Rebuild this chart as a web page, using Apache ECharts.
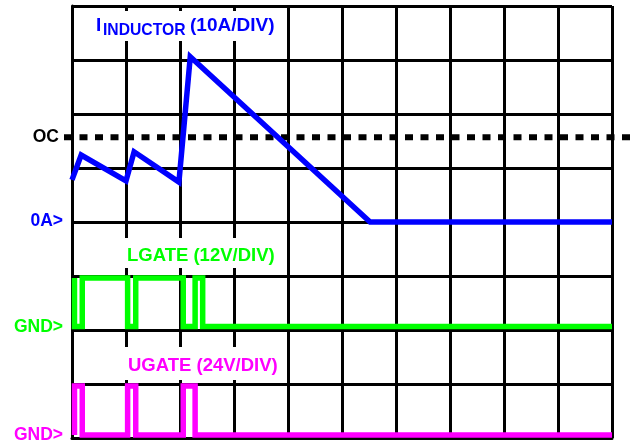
<!DOCTYPE html>
<html>
<head>
<meta charset="utf-8">
<script src="https://cdn.jsdelivr.net/npm/echarts@6/dist/echarts.min.js"></script>
<style>
html, body {margin: 0; padding: 0; background: #fff;}
#chart {width: 639px; height: 440px;}
</style>
</head>
<body>
<div id="chart"></div>
<script>
// scope screen: 10 divisions across, 8 divisions down
// time is in divisions
var inductorT = [0, 0.17, 1.0, 1.15, 1.98, 2.19, 5.52, 10];
var inductorA = [7.8, 12.4, 7.6, 13.0, 7.4, 30.6, 0, 0];
var ocA = 15.7;

var lgateT = [0.046, 0.046, 0.19, 0.19, 1.03, 1.03, 1.18, 1.18, 2.06, 2.06, 2.28, 2.28, 2.42, 2.42, 10];
var lgateV = [10.8, 0, 0, 10.8, 10.8, 0, 0, 10.8, 10.8, 0, 0, 10.8, 10.8, 0, 0];

var ugateT = [0.046, 0.046, 0.19, 0.19, 1.03, 1.03, 1.18, 1.18, 2.06, 2.06, 2.28, 2.28, 10];
var ugateV = [0, 21.8, 21.8, 0, 0, 21.8, 21.8, 0, 0, 21.8, 21.8, 0, 0];

// each channel: ground marker (in divisions from the bottom) and units per division
var inductorZero = 4, inductorPerDiv = 10;
var lgateZero = 2.065, lgatePerDiv = 12;
var ugateZero = 0.056, ugatePerDiv = 24;

function toScreen(ts, vs, zero, perDiv) {
	var out = [];
	for(var i = 0; i < ts.length; i++) {
		out.push([ts[i], zero + vs[i] / perDiv]);
	}
	return out;
}

var font = "'Liberation Sans', Arial, sans-serif";

var myChart = echarts.init(document.getElementById('chart'), null, {renderer: 'canvas'});
var option = {
	animation: false,
	backgroundColor: '#fff',
	grid: [{
		left: 72,
		right: 27,
		top: 6,
		height: 432
	}, {
		// wider grid so the OC line runs past the screen edges
		left: 64,
		right: 7,
		top: 6,
		height: 432
	}],
	xAxis: [{
		type: 'value',
		gridIndex: 0,
		min: 0,
		max: 10,
		interval: 1,
		axisLine: {show: true, lineStyle: {color: '#000', width: 3}},
		axisTick: {show: false},
		axisLabel: {show: false},
		splitLine: {show: true, lineStyle: {color: '#000', width: 3}}
	}, {
		type: 'value',
		gridIndex: 1,
		min: 0,
		max: 1,
		show: false
	}],
	yAxis: [{
		type: 'value',
		gridIndex: 0,
		min: 0,
		max: 8,
		interval: 1,
		axisLine: {show: true, lineStyle: {color: '#000', width: 3}},
		axisTick: {show: false},
		axisLabel: {show: false},
		splitLine: {show: true, lineStyle: {color: '#000', width: 3}}
	}, {
		type: 'value',
		gridIndex: 1,
		min: 0,
		max: 8,
		show: false
	}],
	series: [{
		name: 'OC',
		type: 'line',
		xAxisIndex: 1,
		yAxisIndex: 1,
		symbol: 'none',
		z: 3,
		lineStyle: {color: '#000', width: 6, type: [8, 7.5]},
		data: [[0, inductorZero + ocA / inductorPerDiv], [1, inductorZero + ocA / inductorPerDiv]]
	}, {
		name: 'IINDUCTOR',
		type: 'line',
		symbol: 'none',
		z: 4,
		lineStyle: {color: '#0000ff', width: 5.5, join: 'miter'},
		data: toScreen(inductorT, inductorA, inductorZero, inductorPerDiv)
	}, {
		name: 'LGATE',
		type: 'line',
		symbol: 'none',
		z: 4,
		lineStyle: {color: '#00ff00', width: 5.5, join: 'miter'},
		data: toScreen(lgateT, lgateV, lgateZero, lgatePerDiv)
	}, {
		name: 'UGATE',
		type: 'line',
		symbol: 'none',
		z: 4,
		lineStyle: {color: '#ff00ff', width: 5.5, join: 'miter'},
		data: toScreen(ugateT, ugateV, ugateZero, ugatePerDiv)
	}],
	graphic: [
		// white patches behind the channel titles
		{type: 'rect', shape: {x: 85, y: 11, width: 198, height: 30}, style: {fill: '#fff'}, z: 50},
		{type: 'rect', shape: {x: 85, y: 238, width: 198, height: 30}, style: {fill: '#fff'}, z: 50},
		{type: 'rect', shape: {x: 85, y: 347, width: 198, height: 33}, style: {fill: '#fff'}, z: 50},
		{type: 'text', x: 96, y: 26, z: 60, style: {text: 'I', fill: '#0000ff', font: 'bold 19px ' + font, verticalAlign: 'middle'}},
		{type: 'text', x: 103, y: 31, z: 60, style: {text: 'INDUCTOR', fill: '#0000ff', font: 'bold 15.7px ' + font, verticalAlign: 'middle'}},
		{type: 'text', x: 190, y: 26, z: 60, style: {text: '(10A/DIV)', fill: '#0000ff', font: 'bold 19px ' + font, verticalAlign: 'middle'}},
		{type: 'text', x: 127, y: 255.5, z: 60, style: {text: 'LGATE (12V/DIV)', fill: '#00ff00', font: 'bold 18.5px ' + font, verticalAlign: 'middle'}},
		{type: 'text', x: 128, y: 366, z: 60, style: {text: 'UGATE (24V/DIV)', fill: '#ff00ff', font: 'bold 18.5px ' + font, verticalAlign: 'middle'}},
		// level markers on the left
		{type: 'text', x: 59, y: 137, z: 60, style: {text: 'OC', fill: '#000', font: 'bold 17.5px ' + font, align: 'right', verticalAlign: 'middle'}},
		{type: 'text', x: 63, y: 221, z: 60, style: {text: '0A>', fill: '#0000ff', font: 'bold 17.5px ' + font, align: 'right', verticalAlign: 'middle'}},
		{type: 'text', x: 63, y: 327, z: 60, style: {text: 'GND>', fill: '#00ff00', font: 'bold 17.5px ' + font, align: 'right', verticalAlign: 'middle'}},
		{type: 'text', x: 63, y: 435, z: 60, style: {text: 'GND>', fill: '#ff00ff', font: 'bold 17.5px ' + font, align: 'right', verticalAlign: 'middle'}}
	]
};
myChart.setOption(option);
</script>
</body>
</html>
